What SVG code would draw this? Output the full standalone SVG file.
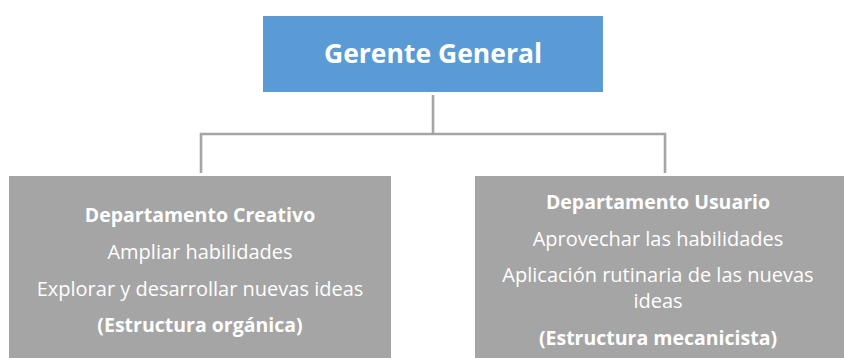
<svg xmlns="http://www.w3.org/2000/svg" width="844" height="358" viewBox="0 0 844 358">
<style>
.box-top{fill:#5b9bd5}
.box-dept{fill:#a5a5a5}
.conn{fill:none;stroke:#a5a5a5;stroke-width:2.6}
text{font-family:"Open Sans","Noto Sans",sans-serif;fill:#ffffff;text-anchor:middle}
.title{font-size:26.5px;font-weight:bold}
.b{font-size:19.5px;font-weight:bold}
.r{font-size:20px}
</style>
<rect width="844" height="358" fill="#ffffff"/>
<g id="connectors">
<path class="conn" d="M433 95 V134"/>
<path class="conn" d="M201 173 V134 H665 V173"/>
</g>
<g id="gerente">
<rect class="box-top" x="263" y="16" width="340" height="76"/>
<text class="title" x="433" y="63">Gerente General</text>
</g>
<g id="creativo">
<rect class="box-dept" x="9" y="176" width="382" height="182"/>
<text class="b" x="200" y="222">Departamento Creativo</text>
<text class="r" x="200" y="259">Ampliar habilidades</text>
<text class="r" x="200" y="296">Explorar y desarrollar nuevas ideas</text>
<text class="b" x="200" y="332">(Estructura orgánica)</text>
</g>
<g id="usuario">
<rect class="box-dept" x="475" y="176" width="369" height="182"/>
<text class="b" x="658" y="209">Departamento Usuario</text>
<text class="r" x="658" y="246">Aprovechar las habilidades</text>
<text class="r" x="658" y="282">Aplicación rutinaria de las nuevas</text>
<text class="r" x="658" y="308">ideas</text>
<text class="b" x="658" y="345">(Estructura mecanicista)</text>
</g>
</svg>
